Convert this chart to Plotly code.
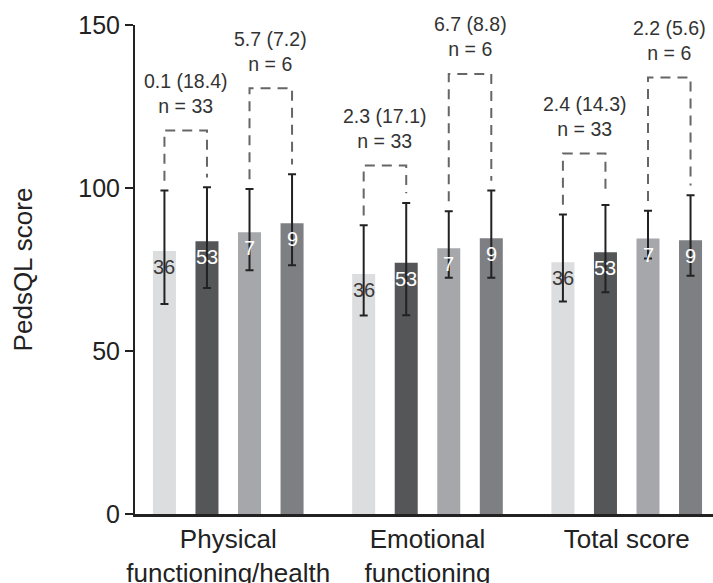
import plotly.graph_objects as go

categories = ["Physical<br>functioning/health", "Emotional<br>functioning", "Total score"]
series_n = ["36", "53", "7", "9"]
series_colors = ["#dcdddf", "#555658", "#a6a7aa", "#7e7f83"]
label_colors = ["#3a3a3a", "#ffffff", "#ffffff", "#ffffff"]

# mean scores per series (one value per category)
means = [
    [80.7, 73.6, 77.2],
    [83.7, 77.1, 80.3],
    [86.4, 81.5, 84.5],
    [89.2, 84.6, 84.0],
]
err_top = [
    [99.2, 88.6, 91.9],
    [100.2, 95.4, 94.8],
    [99.7, 92.9, 93.0],
    [104.2, 99.2, 97.8],
]
err_bottom = [
    [64.4, 60.9, 65.2],
    [69.3, 61.0, 68.0],
    [74.8, 72.5, 78.4],
    [76.3, 72.5, 73.1],
]

# paired-change brackets: (category index, left series, right series, height, text)
bracket_cat = [0, 0, 1, 1, 2, 2]
bracket_left = [0, 2, 0, 2, 0, 2]
bracket_right = [1, 3, 1, 3, 1, 3]
bracket_height = [117.6, 130.6, 106.9, 135.0, 110.6, 133.9]
bracket_change = ["0.1 (18.4)", "5.7 (7.2)", "2.3 (17.1)", "6.7 (8.8)", "2.4 (14.3)", "2.2 (5.6)"]
bracket_n = ["n = 33", "n = 6", "n = 33", "n = 6", "n = 33", "n = 6"]

FONT = "Liberation Sans, Arial, sans-serif"
BARGAP = 0.146
BARGROUPGAP = 0.459
n_series = len(means)
slot = (1 - BARGAP) / n_series
offsets = [(i - (n_series - 1) / 2) * slot for i in range(n_series)]

fig = go.Figure()
for s in range(n_series):
    fig.add_trace(go.Bar(
        x=categories,
        y=means[s],
        name=series_n[s],
        marker=dict(color=series_colors[s], line=dict(width=0)),
        error_y=dict(
            type="data", symmetric=False,
            array=[t - m for t, m in zip(err_top[s], means[s])],
            arrayminus=[m - b for m, b in zip(means[s], err_bottom[s])],
            color="#222222", thickness=2, width=4,
        ),
        showlegend=False,
    ))

annotations = []
# n labels inside bars
for s in range(n_series):
    for c in range(len(categories)):
        annotations.append(dict(
            x=c + offsets[s], y=means[s][c], xref="x", yref="y",
            text=series_n[s], showarrow=False, yanchor="middle", yshift=-16,
            font=dict(family=FONT, size=20, color=label_colors[s]),
        ))

shapes = []
GAP = 3
for k in range(len(bracket_cat)):
    c = bracket_cat[k]
    l, r = bracket_left[k], bracket_right[k]
    xl = c + offsets[l]
    xr = c + offsets[r]
    yl = err_top[l][c] + GAP
    yr = err_top[r][c] + GAP
    h = bracket_height[k]
    shapes.append(dict(
        type="path", xref="x", yref="y",
        path=f"M {xl} {yl} L {xl} {h} L {xr} {h} L {xr} {yr}",
        line=dict(color="#666666", width=2, dash="10px,7px"),
    ))
    annotations.append(dict(
        x=(xl + xr) / 2, y=h, xref="x", yref="y",
        text=bracket_change[k] + "<br>" + bracket_n[k], showarrow=False,
        yanchor="middle", yshift=37,
        font=dict(family=FONT, size=19.5, color="#333333"),
    ))

fig.update_layout(
    width=713, height=583,
    margin=dict(l=135, r=0, t=25, b=69),
    paper_bgcolor="white", plot_bgcolor="white",
    barmode="group", bargap=BARGAP, bargroupgap=BARGROUPGAP,
    annotations=annotations, shapes=shapes,
    font=dict(family=FONT, color="#222222"),
)
fig.update_xaxes(
    range=[-0.468, 2.433], showline=True, linecolor="#222222", linewidth=2.5,
    ticks="", showgrid=False, zeroline=False, automargin=False,
    tickfont=dict(family=FONT, size=26, color="#222222"),
)
fig.update_yaxes(
    range=[0, 150], tickvals=[0, 50, 100, 150],
    showline=True, linecolor="#222222", linewidth=2,
    ticks="outside", ticklen=8, tickwidth=2, tickcolor="#222222",
    showgrid=False, zeroline=False, automargin=False,
    tickfont=dict(family=FONT, size=25, color="#222222"),
    title=dict(text="PedsQL score", font=dict(family=FONT, size=26, color="#222222"), standoff=38),
)

fig.write_html(
    "out.html",
    config={"displayModeBar": False},
    post_script="document.body.style.margin='0';document.body.style.overflow='hidden';",
)
